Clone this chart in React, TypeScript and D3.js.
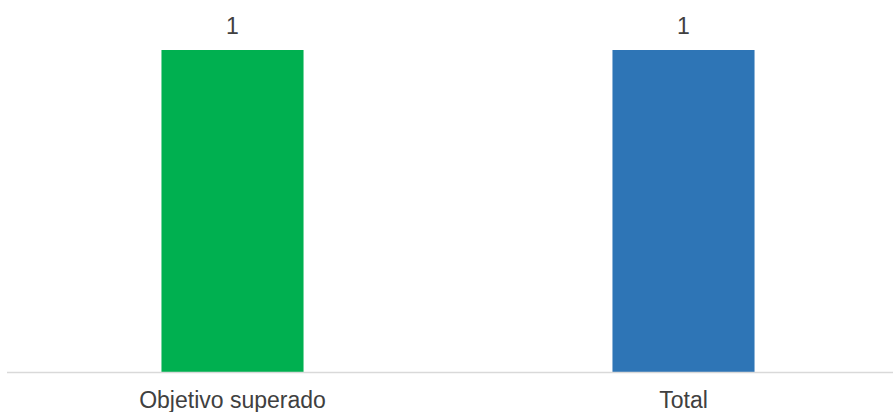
import React from "react";
import * as d3 from "d3";

const categories = ["Objetivo superado", "Total"];
const values = [1, 1];
const colors = ["#00B050", "#2E75B6"];

const W = 893;
const H = 412;

export default function App() {
  const x = d3.scaleBand<string>().domain(categories).range([7, 909]).paddingInner(0.685).paddingOuter(0.3425);
  const y = d3.scaleLinear().domain([0, 1]).range([372.5, 50]);
  const font = "'Liberation Sans', Arial, sans-serif";
  return (
    <svg width={W} height={H} style={{ position: "absolute", left: 0, top: 0 }}>
      <rect x={0} y={0} width={W} height={H} fill="#fff" />
      {categories.map((c, i) => (
        <rect key={c} x={x(c)!} y={y(values[i])} width={x.bandwidth()} height={y(0) - y(values[i])} fill={colors[i]} />
      ))}
      <line x1={7} x2={W} y1={372.5} y2={372.5} stroke="#d9d9d9" strokeWidth={1.5} />
      {categories.map((c, i) => (
        <text key={"v" + c} x={x(c)! + x.bandwidth() / 2} y={33.5} textAnchor="middle" fontFamily={font} fontSize={23} fill="#404040">
          {d3.format("d")(values[i])}
        </text>
      ))}
      {categories.map((c) => (
        <text key={"c" + c} x={x(c)! + x.bandwidth() / 2} y={407.5} textAnchor="middle" fontFamily={font} fontSize={23} fill="#404040">
          {c}
        </text>
      ))}
    </svg>
  );
}
